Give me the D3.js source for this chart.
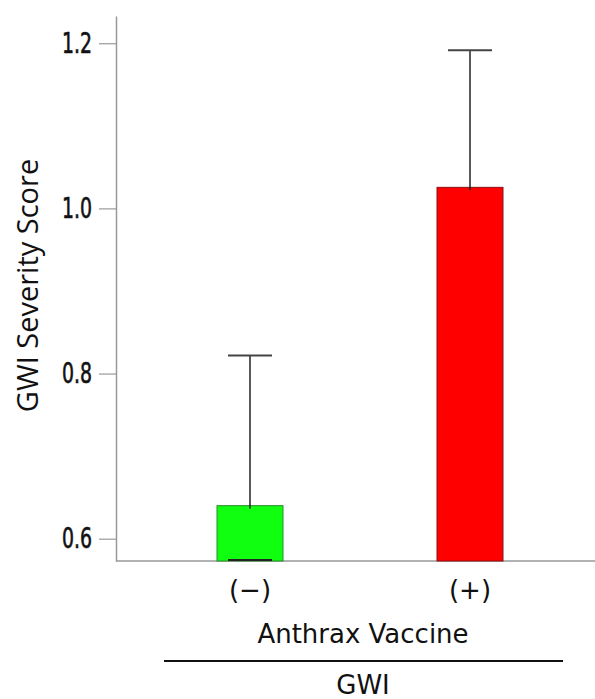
<!DOCTYPE html>
<html>
<head>
<meta charset="utf-8">
<script src="https://cdn.jsdelivr.net/npm/d3@7"></script>
<style>
  body { margin: 0; background: #fff; }
  svg { display: block; }
  .lbl { font-family: 'DejaVu Sans', sans-serif; }
  .tick text { font-family: 'DejaVu Sans Condensed', 'DejaVu Sans', sans-serif; }
</style>
</head>
<body>
<svg id="chart" width="595" height="699"></svg>
<script>
const categories = ['(\u2212)', '(+)']
const means = [0.640, 1.0255]
const upperErr = [0.822, 1.1915]
const lowerErr = [0.458, 0.860]
const barColors = ['#10ff10', '#ff0000']
const barStroke = ['#2a8a2a', '#8a1010']
const yTicks = [0.6, 0.8, 1.0, 1.2]

const svg = d3.select('#chart')
const width = 595
const height = 699

const x = d3.scaleBand()
  .domain(categories)
  .range([140, 580])
  .paddingInner(0.7)
  .paddingOuter(0.35)

const y = d3.scaleLinear()
  .domain([0.573, 1.233])
  .range([561, 16])

const axisColour = '#999'

// y axis
const yAxis = svg.append('g')
  .attr('transform', 'translate(116,0)')
  .call(d3.axisLeft(y).tickValues(yTicks).tickFormat(d3.format('.1f')).tickSize(17).tickSizeOuter(0).tickPadding(7))
yAxis.select('.domain').attr('stroke', axisColour).attr('stroke-width', 1.5)
yAxis.selectAll('.tick line').attr('stroke', axisColour).attr('stroke-width', 1.2)
yAxis.selectAll('.tick text')
  .attr('font-size', 28)
  .attr('fill', '#111')
  .attr('stroke', '#111')
  .attr('stroke-width', 0.6)
  .attr('textLength', 30)
  .attr('lengthAdjust', 'spacingAndGlyphs')

// x axis line
svg.append('line')
  .attr('x1', 116).attr('x2', width)
  .attr('y1', y.range()[0]).attr('y2', y.range()[0])
  .attr('stroke', axisColour)
  .attr('stroke-width', 1.5)

// bars
svg.append('g')
  .selectAll('rect')
  .data(categories)
  .join('rect')
  .attr('x', (d) => x(d))
  .attr('width', x.bandwidth())
  .attr('y', (d, i) => y(means[i]))
  .attr('height', (d, i) => y.range()[0] - y(means[i]))
  .attr('fill', (d, i) => barColors[i])
  .attr('stroke', (d, i) => barStroke[i])
  .attr('stroke-width', 1)

// error bars (upper)
const capW = 44
const err = svg.append('g')
categories.forEach((c, i) => {
  const cx = x(c) + x.bandwidth() / 2
  err.append('line')
    .attr('x1', cx).attr('x2', cx)
    .attr('y1', y(upperErr[i])).attr('y2', y(means[i]) + 3)
    .attr('stroke', '#222').attr('stroke-width', 1.5)
  err.append('line')
    .attr('x1', cx - capW / 2).attr('x2', cx + capW / 2)
    .attr('y1', y(upperErr[i])).attr('y2', y(upperErr[i]))
    .attr('stroke', '#444').attr('stroke-width', 2)
  // lower cap only visible when clipped at the axis floor
  if (lowerErr[i] < y.domain()[0]) {
    err.append('line')
      .attr('x1', cx - capW / 2).attr('x2', cx + capW / 2)
      .attr('y1', y.range()[0] - 1).attr('y2', y.range()[0] - 1)
      .attr('stroke', '#222').attr('stroke-width', 2)
  }
})

// category labels
svg.append('g')
  .selectAll('text')
  .data(categories)
  .join('text')
  .classed('lbl', true)
  .attr('x', (d) => x(d) + x.bandwidth() / 2)
  .attr('y', 599)
  .attr('text-anchor', 'middle')
  .attr('font-size', 26)
  .attr('fill', '#111')
  .text((d) => d)

const midX = 363
svg.append('text')
  .classed('lbl', true)
  .attr('x', midX).attr('y', 643)
  .attr('text-anchor', 'middle')
  .attr('font-size', 26)
  .attr('fill', '#111')
  .text('Anthrax Vaccine')

svg.append('line')
  .attr('x1', 164).attr('x2', 563)
  .attr('y1', 661).attr('y2', 661)
  .attr('stroke', '#111')
  .attr('stroke-width', 2)

svg.append('text')
  .classed('lbl', true)
  .attr('x', midX).attr('y', 694)
  .attr('text-anchor', 'middle')
  .attr('font-size', 26)
  .attr('fill', '#111')
  .text('GWI')

// y title
svg.append('text')
  .attr('transform', 'translate(38,285.5) rotate(-90)')
  .attr('text-anchor', 'middle')
  .attr('font-family', "'Open Sans', sans-serif")
  .attr('font-size', 29)
  .attr('fill', '#111')
  .text('GWI Severity Score')
</script>
</body>
</html>
